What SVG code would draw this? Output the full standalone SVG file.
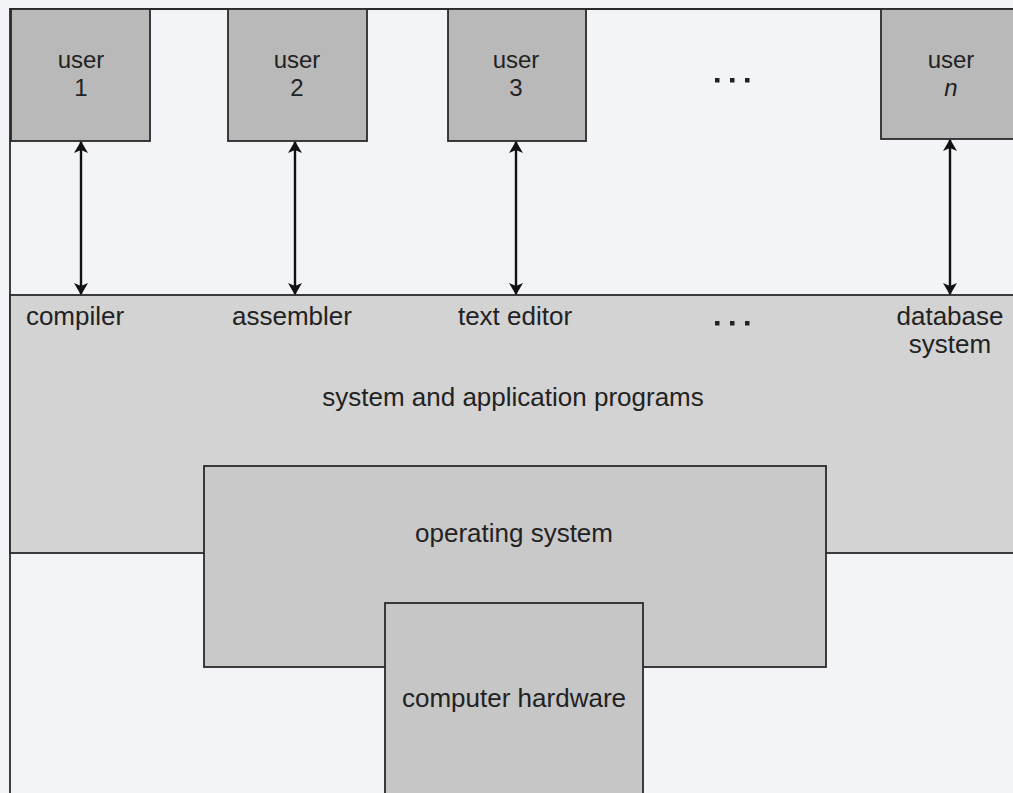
<svg xmlns="http://www.w3.org/2000/svg" width="1013" height="793" viewBox="0 0 1013 793">
<style>
  .lbl { font-family: "Liberation Sans", Arial, sans-serif; font-size: 26px; fill: #222; text-anchor: middle; }
  .ul { font-size: 24px; }
  .box { stroke: #2a2a2a; stroke-width: 1.8; }
  .user { fill: #b9b9b9; }
  .frame { fill: none; stroke: #2a2a2a; stroke-width: 1.8; }
  .conn { stroke: #111; stroke-width: 2.4; fill: none; }
  .dot { fill: #222; }
</style>
<defs>
  <marker id="ah" viewBox="0 0 12 14" refX="11" refY="7" markerWidth="12" markerHeight="14" markerUnits="userSpaceOnUse" orient="auto-start-reverse">
    <path d="M0,0 L12,7 L0,14 L3,7 Z" fill="#111"/>
  </marker>
</defs>
<rect x="0" y="0" width="1013" height="793" fill="#f3f4f8"/>
<g id="frame">
  <path class="frame" d="M10,793 L10,9 L1013,9"/>
</g>
<g id="apps">
  <rect class="box" x="10" y="295" width="1010" height="258" fill="#d3d3d3"/>
  <text class="lbl" x="75" y="325">compiler</text>
  <text class="lbl" x="292" y="325">assembler</text>
  <text class="lbl" x="515" y="325">text editor</text>
  <rect class="dot" x="715" y="321" width="4.5" height="4.5"/>
  <rect class="dot" x="730" y="321" width="4.5" height="4.5"/>
  <rect class="dot" x="745" y="321" width="4.5" height="4.5"/>
  <text class="lbl" x="950" y="325">database</text>
  <text class="lbl" x="950" y="353">system</text>
  <text class="lbl" x="513" y="406">system and application programs</text>
</g>
<g id="os">
  <rect class="box" x="204" y="466" width="622" height="201" fill="#c9c9c9"/>
  <text class="lbl" x="514" y="542">operating system</text>
</g>
<g id="hardware">
  <rect class="box" x="385" y="603" width="258" height="200" fill="#c6c6c6"/>
  <text class="lbl" x="514" y="707">computer hardware</text>
</g>
<g id="user1">
  <rect class="box user" x="11" y="9" width="139" height="132"/>
  <text class="lbl ul" x="81" y="68">user</text>
  <text class="lbl ul" x="81" y="96">1</text>
</g>
<g id="user2">
  <rect class="box user" x="228" y="9" width="139" height="132"/>
  <text class="lbl ul" x="297" y="68">user</text>
  <text class="lbl ul" x="297" y="96">2</text>
</g>
<g id="user3">
  <rect class="box user" x="448" y="9" width="138" height="132"/>
  <text class="lbl ul" x="516" y="68">user</text>
  <text class="lbl ul" x="516" y="96">3</text>
</g>
<g id="dots-users">
  <rect class="dot" x="715" y="78" width="4.5" height="4.5"/>
  <rect class="dot" x="730" y="78" width="4.5" height="4.5"/>
  <rect class="dot" x="745" y="78" width="4.5" height="4.5"/>
</g>
<g id="usern">
  <rect class="box user" x="881" y="9" width="140" height="130"/>
  <text class="lbl ul" x="951" y="68">user</text>
  <text class="lbl ul" x="951" y="96" font-style="italic">n</text>
</g>
<g id="connectors">
  <line class="conn" x1="81" y1="142" x2="81" y2="294" marker-start="url(#ah)" marker-end="url(#ah)"/>
  <line class="conn" x1="295" y1="142" x2="295" y2="294" marker-start="url(#ah)" marker-end="url(#ah)"/>
  <line class="conn" x1="516" y1="142" x2="516" y2="294" marker-start="url(#ah)" marker-end="url(#ah)"/>
  <line class="conn" x1="950" y1="140" x2="950" y2="294" marker-start="url(#ah)" marker-end="url(#ah)"/>
</g>
</svg>
